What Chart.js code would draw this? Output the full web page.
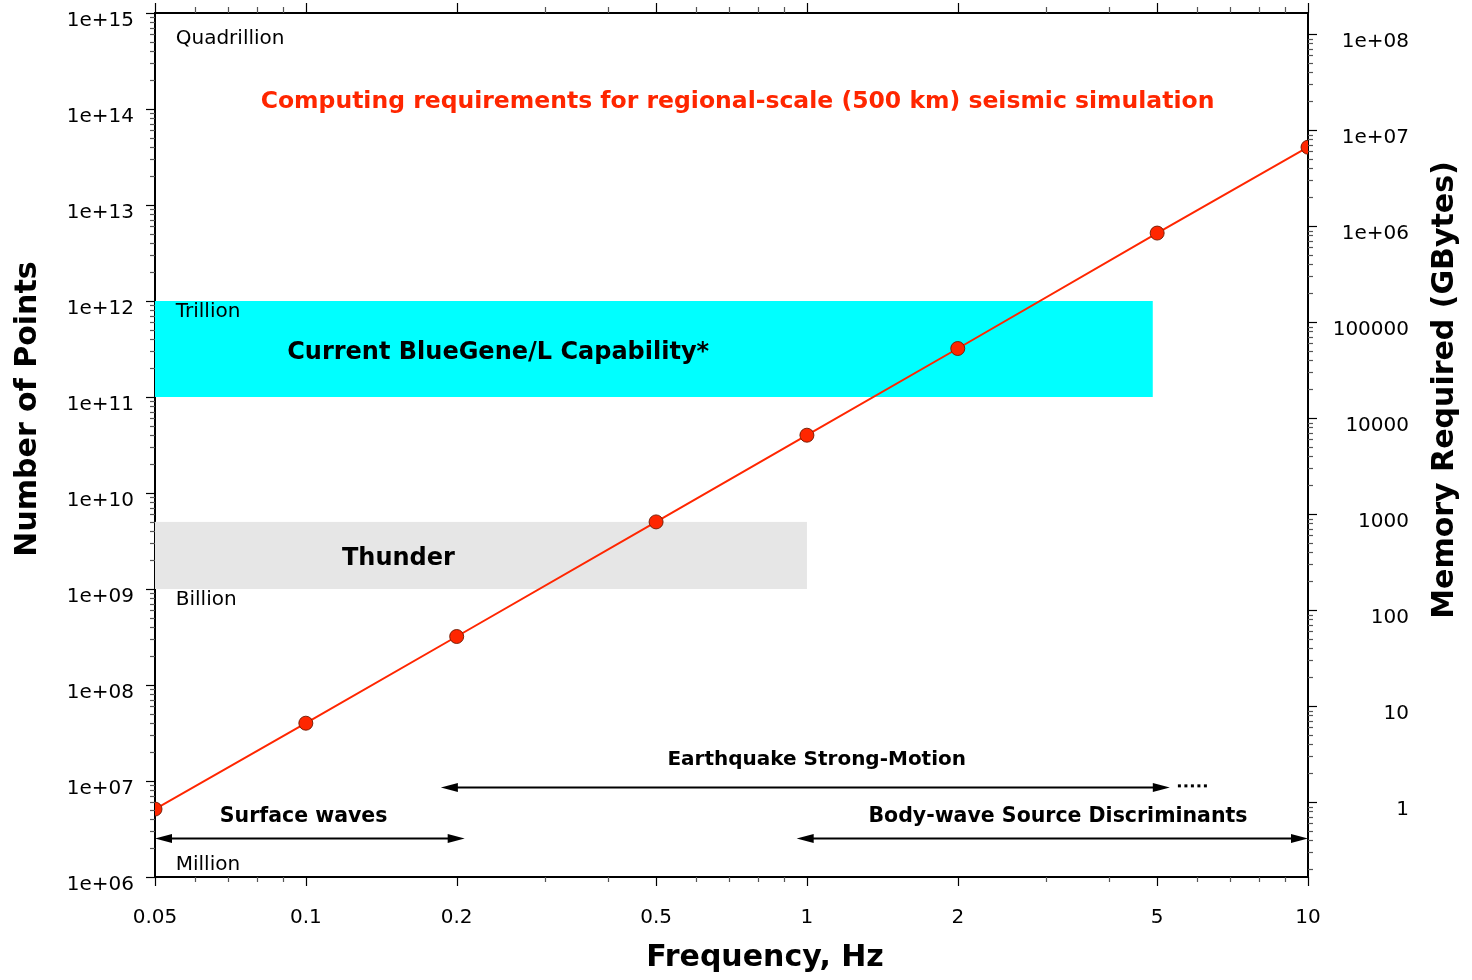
<!DOCTYPE html>
<html>
<head>
<meta charset="utf-8">
<title>Computing requirements</title>
<script src="https://cdn.jsdelivr.net/npm/chart.js@4.4.1/dist/chart.umd.min.js"></script>
<style>
  html, body { margin: 0; padding: 0; background: #fff; }
  canvas { display: block; }
</style>
</head>
<body>
<canvas id="chart" width="1472" height="980"></canvas>
<script>
// --- Datos ---
const frequencies = [0.05, 0.1, 0.2, 0.5, 1, 2, 5, 10];
const numPoints = [5.1e6, 4.0e7, 3.2e8, 5.0e9, 4.0e10, 3.2e11, 5.1e12, 4.0e13];

const xLabelTicks = [0.05, 0.1, 0.2, 0.5, 1, 2, 5, 10];
const xMinorTicks = [0.06, 0.07, 0.08, 0.09, 0.3, 0.4, 0.6, 0.7, 0.8, 0.9, 3, 4, 6, 7, 8, 9];
const yLabelTicks = [1e6, 1e7, 1e8, 1e9, 1e10, 1e11, 1e12, 1e13, 1e14, 1e15];
const yTickLabels = ['1e+06', '1e+07', '1e+08', '1e+09', '1e+10', '1e+11', '1e+12', '1e+13', '1e+14', '1e+15'];
const memLabelTicks = [1, 10, 100, 1000, 1e4, 1e5, 1e6, 1e7, 1e8];
const memTickLabels = ['1', '10', '100', '1000', '10000', '100000', '1e+06', '1e+07', '1e+08'];

// rango del eje derecho (memoria, GBytes)
const memMin = 0.166;
const memMax = 1.66e8;

// bandas: [xMin, xMax, yMin, yMax]
const blueGeneBand = [0.05, 4.9, 1e11, 1e12];
const thunderBand = [0.05, 1.0, 1e9, 5e9];

// flechas: [xDesde, xHasta, y]
const quakeArrow = [0.186, 5.3, 8.7e6];
const surfaceArrow = [0.05, 0.2075, 2.55e6];
const bodyArrow = [0.954, 10, 2.55e6];

// minor ticks de los ejes log
function minorTicks(fromExp, toExp, min, max) {
    const out = [];
    for (let e = fromExp; e <= toExp; e++) {
        for (let m = 2; m <= 9; m++) {
            const v = m * Math.pow(10, e);
            if (v > min && v < max) out.push(v);
        }
    }
    return out;
}
const yMinorTicks = minorTicks(6, 14, 1e6, 1e15);
const memMinorTicks = minorTicks(-1, 8, memMin, memMax);

const FONT = 'DejaVu Sans';
const RED = 'rgb(255, 38, 0)';

function labelFrom(values, labels) {
    return (v) => {
        const i = values.findIndex(t => Math.abs(t - v) / t < 1e-6);
        return i >= 0 ? labels[i] : '';
    };
}
function setTicks(values) {
    return (scale) => { scale.ticks = values.map(v => ({ value: v })); };
}
// tamaño fijo de cada eje, sin el padding extra de las etiquetas
function fixSize(prop, size) {
    return (s) => {
        s[prop] = size;
        s.paddingTop = 0; s.paddingBottom = 0;
        s.paddingLeft = 0; s.paddingRight = 0;
    };
}

// --- Plugin: bandas, textos, flechas, ticks ---
const overlayPlugin = {
    id: 'overlay',
    beforeDatasetsDraw(chart) {
        const { ctx, scales: { x, y } } = chart;
        const band = (b, color) => {
            const x1 = x.getPixelForValue(b[0]), x2 = x.getPixelForValue(b[1]);
            const y1 = y.getPixelForValue(b[3]), y2 = y.getPixelForValue(b[2]);
            ctx.fillStyle = color;
            ctx.fillRect(x1, y1, x2 - x1, y2 - y1);
        };
        ctx.save();
        band(blueGeneBand, '#00ffff');
        band(thunderBand, '#e6e6e6');
        ctx.restore();
    },
    afterDatasetsDraw(chart) {
        const { ctx, scales: { x, y } } = chart;
        const text = (str, xv, yv, font, color, align) => {
            ctx.font = font;
            ctx.fillStyle = color || '#000';
            ctx.textAlign = align || 'center';
            ctx.textBaseline = 'middle';
            ctx.fillText(str, x.getPixelForValue(xv), y.getPixelForValue(yv) + 2.5);
        };
        const head = (px, py, dir) => {
            ctx.beginPath();
            ctx.moveTo(px, py);
            ctx.lineTo(px - dir * 17, py - 4.5);
            ctx.lineTo(px - dir * 17, py + 4.5);
            ctx.closePath();
            ctx.fill();
        };
        const arrow = (a) => {
            const x1 = x.getPixelForValue(a[0]), x2 = x.getPixelForValue(a[1]);
            const py = Math.round(y.getPixelForValue(a[2])) + 0.5;
            ctx.strokeStyle = '#000';
            ctx.fillStyle = '#000';
            ctx.lineWidth = 2;
            ctx.beginPath();
            ctx.moveTo(x1 + 10, py);
            ctx.lineTo(x2 - 10, py);
            ctx.stroke();
            head(x1, py, -1);
            head(x2, py, 1);
        };

        ctx.save();
        text('Quadrillion', 0.055, 5.7e14, `20px ${FONT}`, '#000', 'left');
        text('Trillion', 0.055, 8.1e11, `20px ${FONT}`, '#000', 'left');
        text('Billion', 0.055, 8.1e8, `20px ${FONT}`, '#000', 'left');
        text('Million', 0.055, 1.43e6, `20px ${FONT}`, '#000', 'left');

        text('Computing requirements for regional-scale (500 km) seismic simulation',
            0.727, 1.26e14, `bold 23.5px ${FONT}`, RED);
        text('Current BlueGene/L Capability*', 0.242, 3.1e11, `bold 24px ${FONT}`);
        text('Thunder', 0.153, 2.2e9, `bold 24px ${FONT}`);

        text('Earthquake Strong-Motion', 1.046, 1.78e7, `bold 20px ${FONT}`);
        text('Surface waves', 0.099, 4.5e6, `bold 20.5px ${FONT}`);
        text('Body-wave Source Discriminants', 3.17, 4.5e6, `bold 20.5px ${FONT}`);

        arrow(quakeArrow);
        arrow(surfaceArrow);
        arrow(bodyArrow);

        // puntos suspensivos tras la flecha
        const dx = x.getPixelForValue(5.5);
        const dy = y.getPixelForValue(8.9e6);
        ctx.fillStyle = '#000';
        for (let i = 0; i < 5; i++) ctx.fillRect(dx + i * 6.5, dy - 1.5, 3, 3);
        ctx.restore();
    },
    afterDraw(chart) {
        const { ctx, chartArea: ca, scales: { x, y, y2 } } = chart;
        ctx.save();
        ctx.lineWidth = 1.2;
        const vTick = (scale, v, len, color) => {
            const px = Math.round(scale.getPixelForValue(v)) + 0.5;
            ctx.strokeStyle = color;
            ctx.beginPath();
            ctx.moveTo(px, ca.bottom); ctx.lineTo(px, ca.bottom + len);
            ctx.moveTo(px, ca.top); ctx.lineTo(px, ca.top - len - 1);
            ctx.stroke();
        };
        const hTick = (scale, v, len, color, side) => {
            const py = Math.round(scale.getPixelForValue(v)) + 0.5;
            const x0 = side < 0 ? ca.left : ca.right;
            ctx.strokeStyle = color;
            ctx.beginPath();
            ctx.moveTo(x0, py); ctx.lineTo(x0 + side * len, py);
            ctx.stroke();
        };
        xMinorTicks.forEach(v => vTick(x, v, 5, '#555'));
        xLabelTicks.forEach(v => vTick(x, v, 9, '#000'));
        yMinorTicks.forEach(v => hTick(y, v, 5, '#555', -1));
        yLabelTicks.forEach(v => hTick(y, v, 9, '#000', -1));
        memMinorTicks.forEach(v => hTick(y2, v, 5, '#555', 1));
        memLabelTicks.forEach(v => hTick(y2, v, 9, '#000', 1));

        // titulos de ejes
        ctx.fillStyle = '#000';
        ctx.font = `bold 30px ${FONT}`;
        ctx.textAlign = 'center';
        ctx.textBaseline = 'middle';
        ctx.fillText('Frequency, Hz', 765, 958);
        ctx.translate(28, 409);
        ctx.rotate(-Math.PI / 2);
        ctx.fillText('Number of Points', 0, 0);
        ctx.rotate(Math.PI / 2);
        ctx.translate(1445 - 28, 390 - 409);
        ctx.rotate(-Math.PI / 2);
        ctx.fillText('Memory Required (GBytes)', 0, 0);
        ctx.restore();
    }
};

const tickFont = { family: FONT, size: 20 };

new Chart(document.getElementById('chart'), {
    type: 'line',
    data: {
        datasets: [{
            data: frequencies.map((f, i) => ({ x: f, y: numPoints[i] })),
            borderColor: RED,
            borderWidth: 2,
            pointRadius: 7,
            pointBackgroundColor: RED,
            pointBorderColor: 'rgba(110, 25, 0, 0.9)',
            pointBorderWidth: 1,
            tension: 0,
            xAxisID: 'x',
            yAxisID: 'y'
        }]
    },
    options: {
        responsive: false,
        animation: false,
        devicePixelRatio: 1,
        layout: { padding: { left: 0, top: 0, bottom: 0, right: 63 } },
        plugins: {
            legend: { display: false },
            tooltip: { enabled: false }
        },
        scales: {
            x: {
                type: 'logarithmic',
                position: 'bottom',
                min: 0.05, max: 10,
                afterBuildTicks: setTicks(xLabelTicks),
                afterFit: fixSize('height', 103),
                grid: { display: false, drawTicks: false },
                border: { display: true, color: '#000', width: 2 },
                ticks: {
                    autoSkip: false, maxRotation: 0, color: '#000', font: tickFont, padding: 29,
                    callback: labelFrom(xLabelTicks, xLabelTicks.map(String))
                }
            },
            x2: {
                type: 'logarithmic',
                position: 'top',
                min: 0.05, max: 10,
                afterFit: fixSize('height', 13),
                grid: { display: false, drawTicks: false },
                border: { display: true, color: '#000', width: 2 },
                ticks: { display: false }
            },
            y: {
                type: 'logarithmic',
                position: 'left',
                min: 1e6, max: 1e15,
                afterBuildTicks: setTicks(yLabelTicks),
                afterFit: fixSize('width', 155),
                grid: { display: false, drawTicks: false },
                border: { display: true, color: '#000', width: 2 },
                ticks: {
                    autoSkip: false, color: '#000', font: tickFont, padding: 21, labelOffset: 8,
                    callback: labelFrom(yLabelTicks, yTickLabels)
                }
            },
            y2: {
                type: 'logarithmic',
                position: 'right',
                min: memMin, max: memMax,
                afterBuildTicks: setTicks(memLabelTicks),
                afterFit: fixSize('width', 101),
                grid: { display: false, drawTicks: false },
                border: { display: true, color: '#000', width: 2 },
                ticks: {
                    autoSkip: false, color: '#000', font: tickFont, padding: 20, labelOffset: 8,
                    crossAlign: 'far',
                    callback: labelFrom(memLabelTicks, memTickLabels)
                }
            }
        }
    },
    plugins: [overlayPlugin]
});
</script>
</body>
</html>
